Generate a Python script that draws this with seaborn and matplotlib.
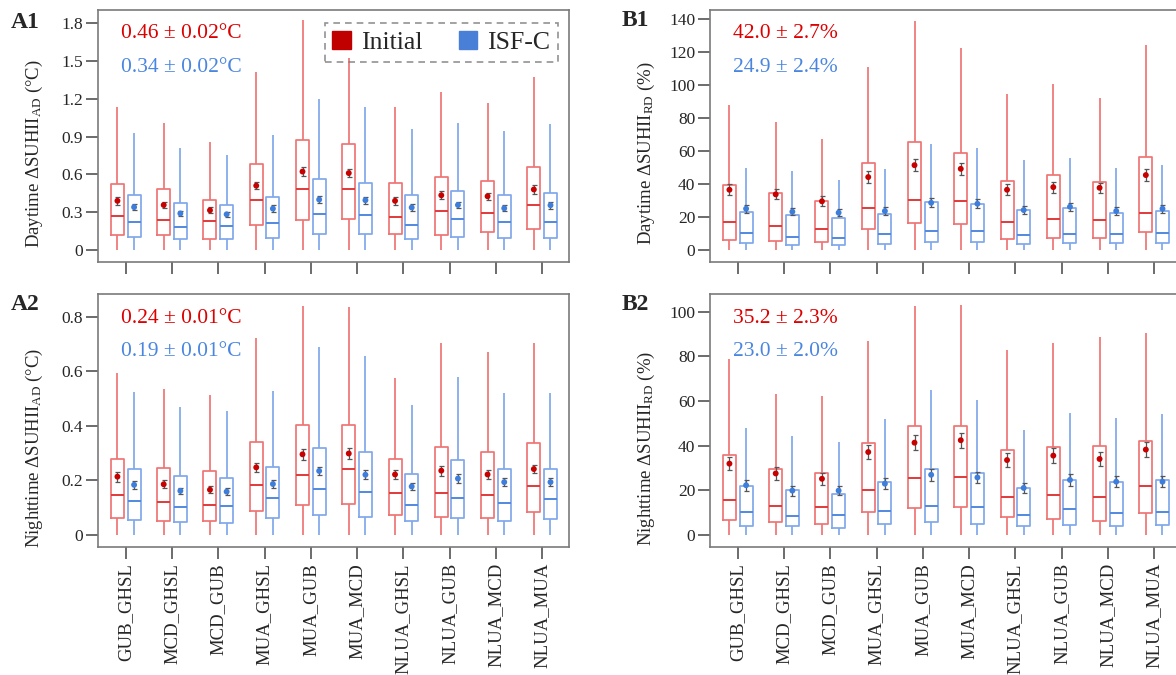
import numpy as np
import pandas as pd
import matplotlib
matplotlib.use("Agg")
import matplotlib.pyplot as plt
import seaborn as sns
from matplotlib.patches import Patch

# ---------------- data ----------------
CATEGORIES = ["GUB_GHSL", "MCD_GHSL", "MCD_GUB", "MUA_GHSL", "MUA_GUB",
              "MUA_MCD", "NLUA_GHSL", "NLUA_GUB", "NLUA_MCD", "NLUA_MUA"]
GROUPS = ["Initial", "ISF-C"]

# box stats per category: (whisker low, Q1, median, Q3, whisker high)
A1_INIT_BOX = [(0, 0.117, 0.273, 0.524, 1.13), (0, 0.117, 0.238, 0.48, 1.01),
               (0, 0.085, 0.228, 0.40, 0.86), (0, 0.196, 0.395, 0.68, 1.41),
               (0, 0.24, 0.48, 0.876, 1.82), (0, 0.246, 0.482, 0.84, 1.52),
               (0, 0.124, 0.26, 0.53, 1.133), (0, 0.117, 0.312, 0.575, 1.25),
               (0, 0.14, 0.297, 0.55, 1.165), (0, 0.17, 0.36, 0.657, 1.37)]
A1_ISF_BOX = [(0, 0.106, 0.225, 0.437, 0.927), (0, 0.085, 0.185, 0.376, 0.81),
              (0, 0.085, 0.188, 0.355, 0.75), (0, 0.093, 0.214, 0.424, 0.913),
              (0, 0.13, 0.283, 0.561, 1.2), (0, 0.124, 0.278, 0.535, 1.133),
              (0, 0.085, 0.2, 0.437, 0.958), (0, 0.106, 0.244, 0.466, 1.006),
              (0, 0.098, 0.222, 0.44, 0.945), (0, 0.095, 0.222, 0.455, 1.0)]
A1_INIT_MEAN = [0.39, 0.357, 0.315, 0.51, 0.622, 0.61, 0.39, 0.434, 0.426, 0.48]
A1_ISF_MEAN = [0.34, 0.29, 0.283, 0.328, 0.40, 0.395, 0.337, 0.357, 0.331, 0.355]
A1_INIT_ERR = [0.03, 0.027, 0.025, 0.03, 0.038, 0.035, 0.03, 0.03, 0.03, 0.035]
A1_ISF_ERR = [0.025, 0.022, 0.02, 0.025, 0.03, 0.028, 0.025, 0.025, 0.025, 0.027]

A2_INIT_BOX = [(0, 0.061, 0.144, 0.278, 0.592), (0, 0.05, 0.12, 0.243, 0.535),
               (0, 0.05, 0.109, 0.235, 0.511), (0, 0.087, 0.181, 0.34, 0.72),
               (0, 0.108, 0.219, 0.401, 0.84), (0, 0.111, 0.241, 0.404, 0.835),
               (0, 0.071, 0.152, 0.276, 0.574), (0, 0.066, 0.152, 0.323, 0.702),
               (0, 0.061, 0.146, 0.305, 0.669), (0, 0.082, 0.18, 0.335, 0.702)]
A2_ISF_BOX = [(0, 0.054, 0.125, 0.242, 0.524), (0, 0.045, 0.103, 0.215, 0.468),
              (0, 0.043, 0.105, 0.209, 0.455), (0, 0.061, 0.133, 0.25, 0.528),
              (0, 0.072, 0.166, 0.319, 0.689), (0, 0.064, 0.157, 0.305, 0.654),
              (0, 0.05, 0.108, 0.223, 0.476), (0, 0.061, 0.133, 0.273, 0.58),
              (0, 0.051, 0.117, 0.241, 0.521), (0, 0.056, 0.131, 0.241, 0.519)]
A2_INIT_MEAN = [0.213, 0.185, 0.165, 0.247, 0.295, 0.298, 0.221, 0.235, 0.221, 0.241]
A2_ISF_MEAN = [0.183, 0.161, 0.158, 0.186, 0.234, 0.22, 0.177, 0.206, 0.193, 0.193]
A2_INIT_ERR = [0.018, 0.015, 0.013, 0.017, 0.02, 0.02, 0.017, 0.018, 0.017, 0.016]
A2_ISF_ERR = [0.014, 0.012, 0.012, 0.014, 0.016, 0.016, 0.014, 0.016, 0.015, 0.015]

B1_INIT_BOX = [(0, 6.3, 16.7, 39.1, 88.2), (0, 5.4, 14.5, 34.7, 77.3),
               (0, 4.6, 12.5, 29.5, 67.0), (0, 12.5, 25.2, 52.5, 111.2),
               (0, 16.3, 30.5, 65.6, 138.6), (0, 15.7, 29.5, 58.9, 122.7),
               (0, 6.7, 17.1, 42.0, 94.4), (0, 7.5, 18.8, 45.2, 100.7),
               (0, 7.3, 18.2, 41.2, 92.0), (0, 10.7, 22.6, 56.1, 124.5)]
B1_ISF_BOX = [(0, 4.0, 10.3, 22.8, 50.0), (0, 3.0, 8.1, 21.0, 48.0),
              (0, 3.0, 7.5, 19.2, 42.4), (0, 3.4, 9.5, 22.0, 48.8),
              (0, 4.6, 11.7, 28.8, 64.2), (0, 4.6, 11.3, 27.6, 61.9),
              (0, 3.4, 8.9, 24.4, 54.5), (0, 4.2, 9.7, 25.2, 55.9),
              (0, 4.0, 9.7, 22.2, 49.8), (0, 4.0, 10.1, 23.4, 51.4)]
B1_INIT_MEAN = [36.5, 33.7, 29.5, 44.2, 51.4, 49.2, 36.5, 38.1, 37.7, 45.4]
B1_ISF_MEAN = [25.0, 23.2, 22.6, 23.6, 28.6, 28.0, 24.2, 26.2, 23.6, 25.0]
B1_INIT_ERR = [3.2, 3.0, 3.0, 3.4, 3.8, 3.6, 3.2, 3.3, 3.2, 3.4]
B1_ISF_ERR = [2.4, 2.3, 2.2, 2.3, 2.8, 2.7, 2.4, 2.5, 2.4, 2.4]

B2_INIT_BOX = [(0, 6.6, 15.4, 35.8, 79.0), (0, 5.5, 12.7, 29.5, 63.0),
               (0, 4.6, 12.6, 27.8, 62.3), (0, 10.3, 20.2, 41.0, 87.0),
               (0, 12.0, 25.6, 48.7, 102.5), (0, 12.6, 26.0, 48.7, 103.1),
               (0, 7.8, 17.1, 38.0, 82.9), (0, 7.2, 17.8, 39.5, 86.1),
               (0, 6.3, 16.8, 40.0, 88.8), (0, 9.9, 21.7, 42.2, 90.4)]
B2_ISF_BOX = [(0, 3.7, 10.2, 21.7, 48.1), (0, 3.7, 8.2, 19.9, 44.5),
              (0, 3.1, 8.7, 18.4, 41.5), (0, 4.6, 10.5, 23.8, 51.8),
              (0, 5.8, 13.0, 29.5, 65.0), (0, 4.8, 12.3, 27.5, 60.5),
              (0, 3.7, 9.0, 20.8, 46.9), (0, 4.3, 11.4, 24.7, 54.6),
              (0, 3.7, 9.9, 23.5, 52.4), (0, 4.3, 10.0, 24.7, 54.0)]
B2_INIT_MEAN = [31.9, 27.5, 25.1, 37.1, 41.3, 42.4, 33.5, 35.5, 34.0, 38.2]
B2_ISF_MEAN = [22.2, 19.8, 19.8, 22.9, 26.9, 25.7, 21.0, 24.6, 23.8, 23.8]
B2_INIT_ERR = [3.0, 2.8, 2.6, 3.2, 3.4, 3.4, 3.0, 3.3, 3.1, 3.2]
B2_ISF_ERR = [2.4, 2.2, 2.1, 2.4, 2.6, 2.5, 2.3, 2.6, 2.6, 2.6]

A1_TEXT = ["0.46 ± 0.02°C", "0.34 ± 0.02°C"]
A2_TEXT = ["0.24 ± 0.01°C", "0.19 ± 0.01°C"]
B1_TEXT = ["42.0 ± 2.7%", "24.9 ± 2.4%"]
B2_TEXT = ["35.2 ± 2.3%", "23.0 ± 2.0%"]

A1_TICKS = [0, 0.3, 0.6, 0.9, 1.2, 1.5, 1.8]
A1_TICKLABELS = ["0", "0.3", "0.6", "0.9", "1.2", "1.5", "1.8"]
A2_TICKS = [0, 0.2, 0.4, 0.6, 0.8]
A2_TICKLABELS = ["0", "0.2", "0.4", "0.6", "0.8"]
B1_TICKS = [0, 20, 40, 60, 80, 100, 120, 140]
B1_TICKLABELS = ["0", "20", "40", "60", "80", "100", "120", "140"]
B2_TICKS = [0, 20, 40, 60, 80, 100]
B2_TICKLABELS = ["0", "20", "40", "60", "80", "100"]

# ---------------- style ----------------
RED_LINE = "#ef7474"
RED_MED = "#e03a3a"
BLUE_LINE = "#80a8ec"
BLUE_MED = "#5289e0"
RED_DOT = "#c80000"
BLUE_DOT = "#3d7ddb"
RED_TEXT = "#dd0000"
BLUE_TEXT = "#4a86e0"

sns.set_style("ticks")
plt.rcParams["font.family"] = ["Liberation Serif", "DejaVu Serif"]
plt.rcParams["mathtext.fontset"] = "custom"
plt.rcParams["mathtext.rm"] = "Liberation Serif"
plt.rcParams["mathtext.it"] = "Liberation Serif:italic"
plt.rcParams["mathtext.bf"] = "Liberation Serif:bold"

W, H = 1176, 675
fig = plt.figure(figsize=(W / 100, H / 100), dpi=100)


def px_axes(left, top, right, bottom):
    return fig.add_axes([left / W, 1 - bottom / H, (right - left) / W, (bottom - top) / H])


BOX_WIDTH = 0.72


def draw_panel(ax, init_box, isf_box, init_mean, isf_mean, init_err, isf_err,
               ylim, ticks, ticklabels, ylabel, texts, label_y, show_xlabels):
    rows = []
    for i, cat in enumerate(CATEGORIES):
        for grp, boxes in ((GROUPS[0], init_box), (GROUPS[1], isf_box)):
            for v in boxes[i]:
                rows.append((cat, grp, v))
    df = pd.DataFrame(rows, columns=["cat", "grp", "val"])
    sns.boxplot(data=df, x="cat", y="val", hue="grp", order=CATEGORIES,
                hue_order=GROUPS, palette=[RED_LINE, BLUE_LINE], fill=False,
                width=BOX_WIDTH, gap=0.22, whis=(0, 100), showcaps=False,
                linewidth=1.25, legend=False, ax=ax)
    # darker medians
    for ln in ax.lines:
        xd = np.asarray(ln.get_xdata(), dtype=float)
        yd = np.asarray(ln.get_ydata(), dtype=float)
        if len(yd) == 2 and yd[0] == yd[1] and xd[0] != xd[1]:
            c = xd.mean()
            ln.set_color(RED_MED if c < round(c) else BLUE_MED)
            ln.set_linewidth(1.4)
    off = BOX_WIDTH / 4
    xs = np.arange(len(CATEGORIES))
    for sign, mean, err, col in ((-1, init_mean, init_err, RED_DOT),
                                 (1, isf_mean, isf_err, BLUE_DOT)):
        ax.errorbar(xs + sign * off, mean, yerr=err, fmt="none", ecolor="#555555",
                    elinewidth=0.9, capsize=1.8, capthick=0.9, zorder=4)
        ax.scatter(xs + sign * off, mean, s=18, color=col, edgecolor="none", zorder=5)

    ax.set_xlim(-0.6, 9.58)
    ax.set_ylim(*ylim)
    ax.set_yticks(ticks)
    ax.set_yticklabels(ticklabels)
    ax.set_xlabel("")
    ax.set_ylabel(ylabel, fontsize=13.5)
    ax.yaxis.set_label_coords(-0.113, label_y)
    ax.tick_params(axis="both", direction="out", length=8.6, width=1.1,
                   color="#444444", labelsize=12.5, pad=2)
    ax.tick_params(axis="x", pad=3)
    ax.set_xticks(xs)
    if show_xlabels:
        ax.set_xticklabels(CATEGORIES, rotation=90, fontsize=13.5)
    else:
        ax.set_xticklabels([])
    for s in ax.spines.values():
        s.set_visible(True)
        s.set_color("#7a7a7a")
        s.set_linewidth(1.2)
    ax.text(0.049, 0.905, texts[0], transform=ax.transAxes, color=RED_TEXT,
            fontsize=15.5, va="center", ha="left")
    ax.text(0.049, 0.772, texts[1], transform=ax.transAxes, color=BLUE_TEXT,
            fontsize=15.5, va="center", ha="left")


axA1 = px_axes(98, 10, 569, 262)
axA2 = px_axes(98, 294, 569, 547)
axB1 = px_axes(710, 10, 1181, 262)
axB2 = px_axes(710, 294, 1181, 547)

draw_panel(axA1, A1_INIT_BOX, A1_ISF_BOX, A1_INIT_MEAN, A1_ISF_MEAN, A1_INIT_ERR, A1_ISF_ERR,
           (-0.095, 1.903), A1_TICKS, A1_TICKLABELS,
           r"Daytime ΔSUHII$_{\mathrm{AD}}$ (°C)", A1_TEXT, 0.43, False)
draw_panel(axA2, A2_INIT_BOX, A2_ISF_BOX, A2_INIT_MEAN, A2_ISF_MEAN, A2_INIT_ERR, A2_ISF_ERR,
           (-0.045, 0.883), A2_TICKS, A2_TICKLABELS,
           r"Nighttime ΔSUHII$_{\mathrm{AD}}$ (°C)", A2_TEXT, 0.39, True)
draw_panel(axB1, B1_INIT_BOX, B1_ISF_BOX, B1_INIT_MEAN, B1_ISF_MEAN, B1_INIT_ERR, B1_ISF_ERR,
           (-7.3, 145.5), B1_TICKS, B1_TICKLABELS,
           r"Daytime ΔSUHII$_{\mathrm{RD}}$ (%)", B1_TEXT, 0.43, False)
draw_panel(axB2, B2_INIT_BOX, B2_ISF_BOX, B2_INIT_MEAN, B2_ISF_MEAN, B2_INIT_ERR, B2_ISF_ERR,
           (-5.5, 108), B2_TICKS, B2_TICKLABELS,
           r"Nighttime ΔSUHII$_{\mathrm{RD}}$ (%)", B2_TEXT, 0.39, True)

# legend
handles = [Patch(facecolor="#c00000", edgecolor="#c00000"),
           Patch(facecolor="#4a7fd8", edgecolor="#4a7fd8")]
leg = axA1.legend(handles, GROUPS, ncol=2, loc="upper right",
                  bbox_to_anchor=(0.977, 0.948), fontsize=18.5, frameon=True,
                  fancybox=False, handlelength=0.72, handleheight=0.72,
                  handletextpad=0.4, columnspacing=1.4, borderpad=0.3,
                  borderaxespad=0)
fr = leg.get_frame()
fr.set_linestyle((0, (4, 3)))
fr.set_edgecolor("#777777")
fr.set_facecolor("none")
fr.set_linewidth(1.2)

# panel labels
for txt, x, y in (("A1", 11, 22), ("A2", 11, 305), ("B1", 622, 21), ("B2", 622, 305)):
    fig.text(x / W, 1 - y / H, txt, fontsize=17, fontweight="bold", va="center", ha="left")

fig.savefig("out.png", dpi=100)
